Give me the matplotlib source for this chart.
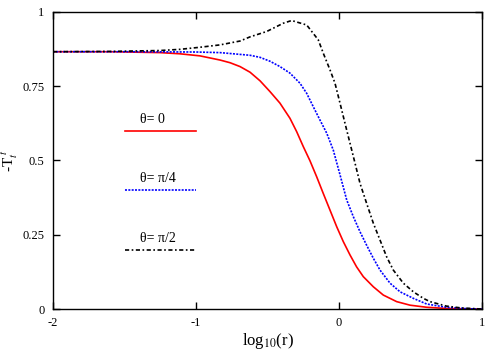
import matplotlib
matplotlib.use("Agg")
import matplotlib.pyplot as plt
from matplotlib.ticker import FixedLocator

# curve data (x = log10(r), y = -T_t^t)
x_theta0 = [-2.0, -1.6, -1.252, -1.112, -0.972, -0.832, -0.762, -0.692, -0.622,
            -0.552, -0.483, -0.413, -0.343, -0.296, -0.25, -0.203, -0.156, -0.11,
            -0.063, -0.016, 0.03, 0.077, 0.123, 0.17, 0.24, 0.31, 0.403, 0.497,
            0.613, 0.75, 0.9, 1.0]
y_theta0 = [0.866, 0.866, 0.863, 0.859, 0.852, 0.838, 0.829, 0.816, 0.797,
            0.768, 0.732, 0.693, 0.642, 0.597, 0.547, 0.499, 0.445, 0.389,
            0.333, 0.277, 0.227, 0.182, 0.142, 0.109, 0.075, 0.047, 0.025, 0.013,
            0.006, 0.002, 0.0005, 0.0]

x_theta4 = [-2.0, -1.5, -1.0, -0.832, -0.692, -0.622, -0.552, -0.483, -0.413,
            -0.343, -0.273, -0.226, -0.18, -0.133, -0.086, -0.04, 0.007, 0.054,
            0.1, 0.147, 0.193, 0.24, 0.287, 0.357, 0.427, 0.52, 0.613, 0.75, 0.9, 1.0]
y_theta4 = [0.866, 0.866, 0.865, 0.863, 0.857, 0.854, 0.847, 0.834, 0.816,
            0.794, 0.760, 0.726, 0.681, 0.636, 0.592, 0.535, 0.452, 0.367,
            0.311, 0.260, 0.215, 0.171, 0.131, 0.087, 0.058, 0.036, 0.017, 0.006,
            0.001, 0.0]

x_theta2 = [-2.0, -1.6, -1.252, -1.112, -0.972, -0.832, -0.692, -0.622, -0.506,
            -0.389, -0.331, -0.226, -0.145, -0.11, -0.063, -0.028, 0.007, 0.042,
            0.077, 0.112, 0.147, 0.193, 0.24, 0.287, 0.333, 0.38, 0.45, 0.52,
            0.59, 0.636, 0.75, 0.85, 1.0]
y_theta2 = [0.866, 0.867, 0.870, 0.874, 0.881, 0.889, 0.902, 0.916, 0.934,
            0.962, 0.971, 0.956, 0.906, 0.861, 0.805, 0.760, 0.693, 0.625,
            0.558, 0.491, 0.423, 0.356, 0.289, 0.232, 0.176, 0.131, 0.087, 0.058,
            0.036, 0.025, 0.010, 0.004, 0.0]

legend_labels = ["θ= 0", "θ= π/4", "θ= π/2"]
legend_y = [0.6, 0.4, 0.2]

plt.rcParams['font.family'] = ['Liberation Serif', 'DejaVu Serif']
plt.rcParams['mathtext.fontset'] = 'stix'

fig = plt.figure(figsize=(5, 3.5), dpi=100)
ax = fig.add_axes([0.106, 0.117, 0.858, 0.849])

styles = [dict(color='red', ls='-', lw=1.2),
          dict(color='blue', ls=(0, (1.2, 0.8)), lw=1.2),
          dict(color='black', ls=(0, (2.5, 1.5, 1, 1.5)), lw=1.2)]

for (xs, ys), st in zip([(x_theta0, y_theta0), (x_theta4, y_theta4), (x_theta2, y_theta2)], styles):
    ax.plot(xs, ys, **st)

# hand-made legend inside the plot
for lab, yy, st in zip(legend_labels, legend_y, styles):
    ax.plot([-1.5, -1.0], [yy, yy], **st)
    ax.text(-1.395, yy + 0.017, lab, ha='left', va='bottom', fontsize=10)

ax.set_xlim(-2, 1)
ax.set_ylim(0, 1)
ax.xaxis.set_major_locator(FixedLocator([-2, -1, 0, 1]))
ax.yaxis.set_major_locator(FixedLocator([0, 0.25, 0.5, 0.75, 1]))
ax.set_xticklabels(['-2', '-1', '0', '1'])
ax.set_yticklabels(['0', '0.25', '0.5', '0.75', '1'])
ax.tick_params(direction='in', top=True, right=True, length=5, width=1,
               labelsize=9, pad=6)
for sp in ax.spines.values():
    sp.set_linewidth(1)

ax.set_xlabel(r"log$_{10}$(r)", fontsize=12, labelpad=1)
ax.set_ylabel(r"-T$_t^{\ t}$", fontsize=11, va='center')
ax.yaxis.set_label_coords(-0.1, 0.5)

fig.savefig('out.png', dpi=100)
